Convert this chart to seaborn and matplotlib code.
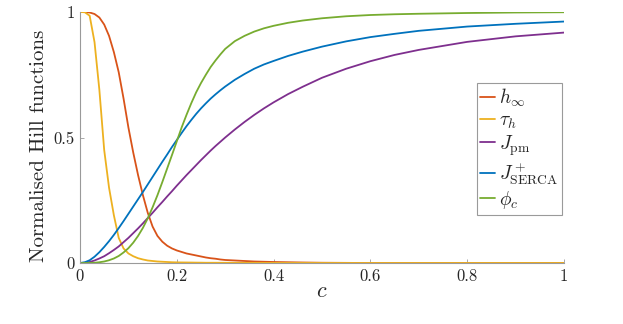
import numpy as np
import pandas as pd
import matplotlib
matplotlib.use('Agg')
import matplotlib.pyplot as plt
import seaborn as sns

# calcium concentration grid
c_vals = [0, 0.01, 0.02, 0.03, 0.04, 0.05, 0.06, 0.07, 0.08, 0.09,
          0.10, 0.11, 0.12, 0.13, 0.14, 0.15, 0.16, 0.17, 0.18, 0.19,
          0.20, 0.21, 0.22, 0.23, 0.24, 0.25, 0.26, 0.27, 0.28, 0.29, 0.30,
          0.32, 0.34, 0.36, 0.38, 0.40,
          0.43, 0.46, 0.50,
          0.55, 0.60, 0.65, 0.70,
          0.80, 0.90, 1.00]

h_inf = [1.0, 1.0, 0.998, 0.992, 0.978, 0.950, 0.905, 0.840, 0.760, 0.655,
         0.540, 0.440, 0.350, 0.270, 0.200, 0.145, 0.108, 0.085, 0.069, 0.058,
         0.050, 0.044, 0.038, 0.034, 0.030, 0.026, 0.022, 0.019, 0.017, 0.014, 0.012,
         0.010, 0.008, 0.006, 0.005, 0.004,
         0.003, 0.002, 0.001,
         0.0005, 0.0, 0.0, 0.0,
         0.0, 0.0, 0.0]

tau_h = [1.0, 0.999, 0.985, 0.880, 0.690, 0.450, 0.300, 0.190, 0.100, 0.058,
         0.038, 0.027, 0.019, 0.014, 0.010, 0.008, 0.006, 0.005, 0.004, 0.003,
         0.0025, 0.0022, 0.002, 0.0018, 0.0015, 0.0013, 0.001, 0.001, 0.001, 0.0009, 0.0008,
         0.0007, 0.0006, 0.0005, 0.0004, 0.0004,
         0.0003, 0.0003, 0.0002,
         0.0001, 0.0, 0.0, 0.0,
         0.0, 0.0, 0.0]

J_pm = [0.0, 0.001, 0.004, 0.010, 0.018, 0.027, 0.039, 0.052, 0.066, 0.083,
        0.100, 0.119, 0.138, 0.158, 0.179, 0.200, 0.222, 0.243, 0.265, 0.286,
        0.308, 0.329, 0.350, 0.370, 0.390, 0.410, 0.429, 0.448, 0.466, 0.483, 0.500,
        0.532, 0.562, 0.590, 0.616, 0.640,
        0.673, 0.702, 0.738,
        0.774, 0.804, 0.829, 0.849,
        0.881, 0.903, 0.918]

J_serca = [0.0, 0.003, 0.011, 0.025, 0.043, 0.064, 0.087, 0.112, 0.139, 0.167,
           0.196, 0.225, 0.254, 0.283, 0.313, 0.343, 0.373, 0.403, 0.432, 0.462,
           0.490, 0.518, 0.545, 0.570, 0.594, 0.616, 0.636, 0.655, 0.672, 0.688, 0.703,
           0.730, 0.753, 0.774, 0.791, 0.805,
           0.825, 0.842, 0.862,
           0.883, 0.900, 0.913, 0.925,
           0.942, 0.953, 0.962]

phi_c = [0.0, 0.0, 0.0003, 0.001, 0.003, 0.006, 0.011, 0.018, 0.028, 0.042,
         0.059, 0.081, 0.108, 0.140, 0.178, 0.222, 0.270, 0.322, 0.376, 0.430,
         0.485, 0.540, 0.590, 0.637, 0.680, 0.717, 0.750, 0.781, 0.807, 0.831, 0.853,
         0.884, 0.905, 0.922, 0.935, 0.945,
         0.957, 0.966, 0.975,
         0.983, 0.988, 0.991, 0.993,
         0.996, 0.998, 0.999]

labels = [r'$h_\infty$', r'$\tau_h$', r'$J_{\mathrm{pm}}$',
          r'$J^+_{\mathrm{SERCA}}$', r'$\phi_c$']
colors = ['#D95319', '#EDB120', '#7E2F8E', '#0072BD', '#77AC30']
xticks = [0, 0.2, 0.4, 0.6, 0.8, 1]
xtick_labels = ['0', '0.2', '0.4', '0.6', '0.8', '1']
yticks = [0, 0.5, 1]
ytick_labels = ['0', '0.5', '1']

frames = []
for lab, vals in zip(labels, [h_inf, tau_h, J_pm, J_serca, phi_c]):
    frames.append(pd.DataFrame({'c': c_vals, 'value': vals, 'curve': lab}))
df = pd.concat(frames, ignore_index=True)

sns.set_style('ticks')
plt.rcParams['font.family'] = 'serif'
plt.rcParams['font.serif'] = ['cmr10', 'DejaVu Serif']
plt.rcParams['mathtext.fontset'] = 'cm'
plt.rcParams['axes.unicode_minus'] = False

fig = plt.figure(figsize=(6.23, 3.24), dpi=100)
ax = fig.add_axes([80 / 623, 1 - 263 / 324, 484 / 623, 251 / 324])

sns.lineplot(data=df, x='c', y='value', hue='curve', hue_order=labels,
             palette=colors, linewidth=1.3, ax=ax, legend=False)

ax.set_xlim(0, 1)
ax.set_ylim(0, 1)
ax.set_xticks(xticks)
ax.set_xticklabels(xtick_labels)
ax.set_yticks(yticks)
ax.set_yticklabels(ytick_labels)
ax.tick_params(direction='in', length=3, width=0.6, color='#9a9a9a',
               labelsize=12, labelcolor='#262626', pad=4)
for side in ['top', 'right']:
    ax.spines[side].set_visible(False)
for side in ['left', 'bottom']:
    ax.spines[side].set_color('#9a9a9a')
    ax.spines[side].set_linewidth(0.8)

ax.set_xlabel(r'$c$', fontsize=16, color='#262626', labelpad=-2)
ax.set_ylabel('Normalised Hill functions', fontsize=15, color='#262626')
ax.yaxis.set_label_coords(-0.066, 0.466)

handles = [plt.Line2D([], [], color=col, linewidth=1.3) for col in colors]
leg = ax.legend(handles, labels, loc='upper right',
                bbox_to_anchor=(562 / 623, 1 - 83 / 324), bbox_transform=fig.transFigure,
                fontsize=14, frameon=True, fancybox=False, framealpha=1,
                edgecolor='#9a9a9a', handlelength=0.75, handletextpad=0.2,
                labelspacing=0.12, borderpad=0.2, borderaxespad=0)
leg.get_frame().set_linewidth(0.8)

fig.savefig('out.png', dpi=100)
